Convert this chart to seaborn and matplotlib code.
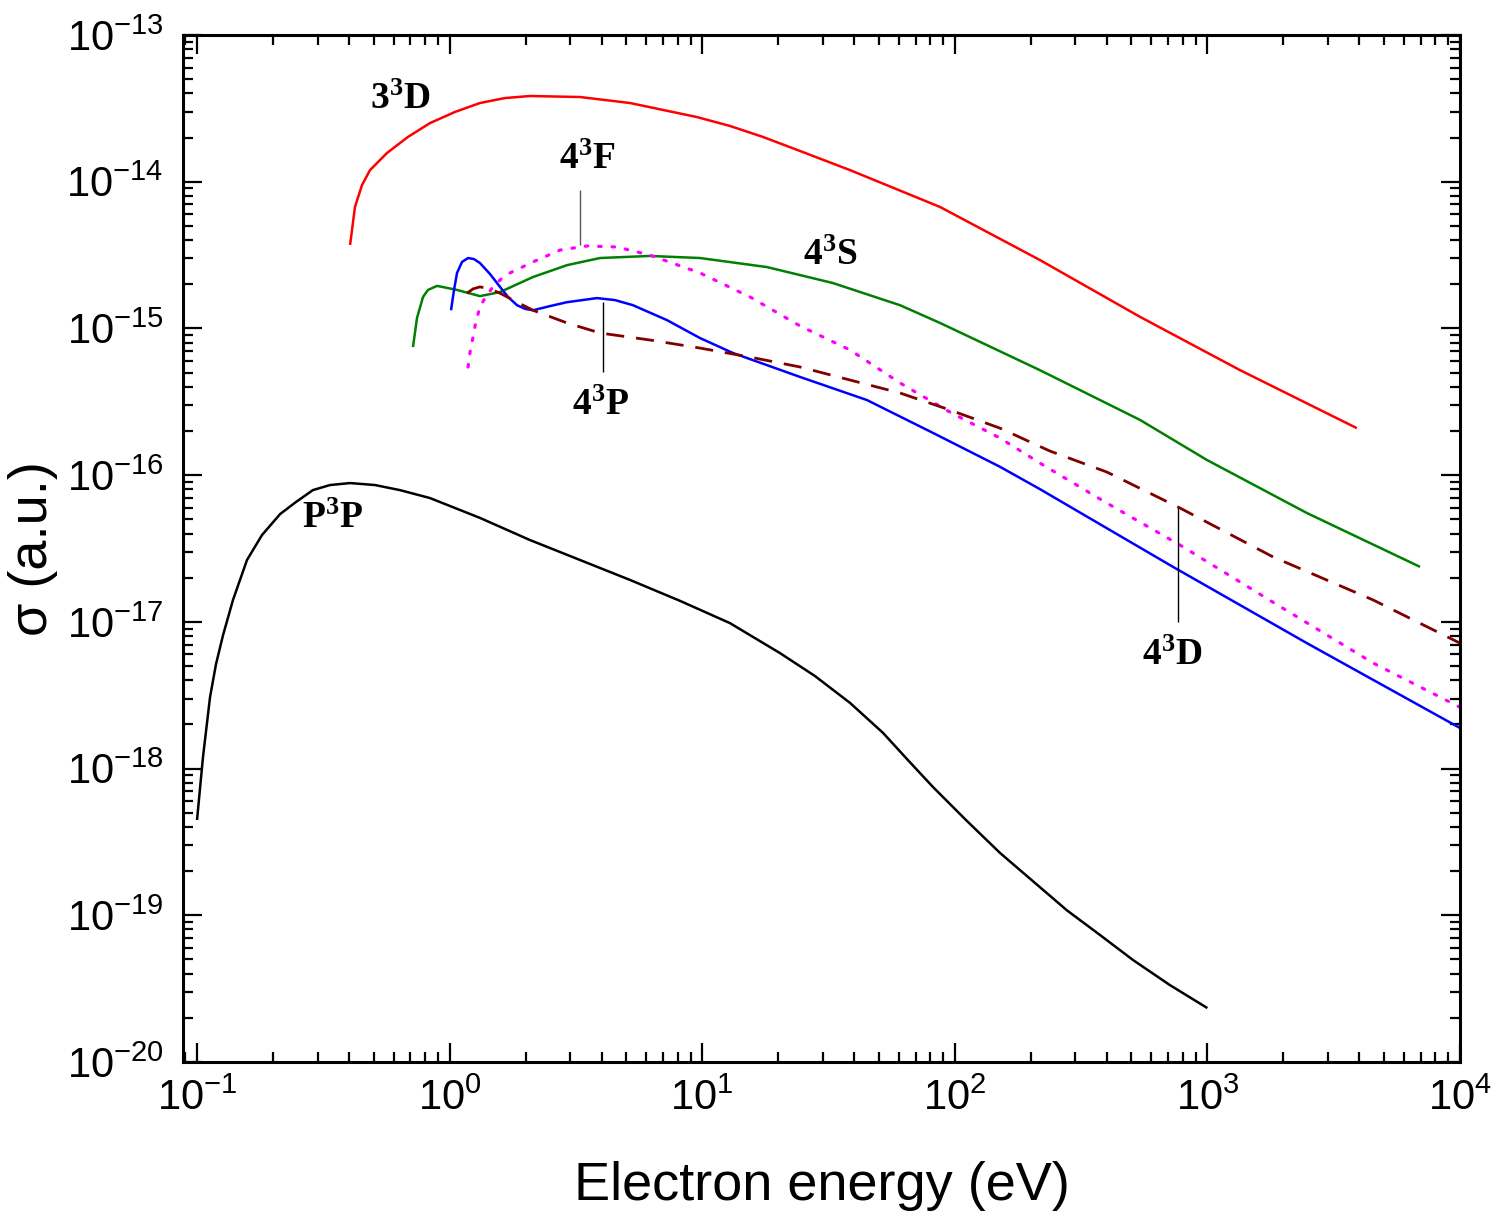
import matplotlib
matplotlib.use('Agg')
import matplotlib.pyplot as plt
import matplotlib.ticker as mticker
import numpy as np
import seaborn as sns

# energies (eV) and cross sections (a.u.)
e_p3p = [0.100, 0.1056, 0.1126, 0.1189, 0.1268, 0.1388, 0.1577, 0.1809, 0.2133, 0.2465, 0.2877,
         0.336, 0.4036, 0.5068, 0.637, 0.836, 1.319, 2.081, 3.283, 5.18, 8.17, 12.88, 20.3, 27.97,
         38.5, 52.0, 65.3, 82.0, 110.7, 151, 278, 376, 508, 711, 1000]
s_p3p = [4.46e-19, 1.20e-18, 3.07e-18, 5.15e-18, 8.13e-18, 1.41e-17, 2.64e-17, 3.91e-17,
         5.43e-17, 6.56e-17, 7.91e-17, 8.56e-17, 8.83e-17, 8.56e-17, 7.9e-17, 6.98e-17, 5.11e-17,
         3.61e-17, 2.64e-17, 1.93e-17, 1.39e-17, 9.8e-18, 6.13e-18, 4.27e-18, 2.80e-18, 1.75e-18,
         1.14e-18, 7.48e-19, 4.46e-19, 2.66e-19, 1.08e-19, 7.33e-20, 4.95e-20, 3.34e-20, 2.33e-20]

e_33d = [0.4036, 0.422, 0.450, 0.484, 0.565, 0.684, 0.836, 1.050, 1.319, 1.657, 2.081, 3.283,
         5.18, 9.53, 12.88, 17.4, 24.4, 38.5, 87.4, 217, 541, 1346, 3908]
s_33d = [3.71e-15, 6.73e-15, 9.5e-15, 1.20e-14, 1.57e-14, 2.02e-14, 2.51e-14, 2.99e-14, 3.44e-14,
         3.72e-14, 3.84e-14, 3.78e-14, 3.44e-14, 2.76e-14, 2.40e-14, 2.02e-14, 1.62e-14, 1.20e-14,
         6.73e-15, 2.93e-15, 1.20e-15, 5.20e-16, 2.09e-16]

e_43s = [0.716, 0.743, 0.785, 0.821, 0.892, 1.070, 1.319, 1.583, 2.138, 2.916, 3.94, 6.21, 9.80,
         18.05, 32.9, 60.7, 87.4, 217, 541, 995, 2477, 6950]
s_43s = [7.46e-16, 1.18e-15, 1.64e-15, 1.83e-15, 1.95e-15, 1.83e-15, 1.66e-15, 1.77e-15,
         2.24e-15, 2.70e-15, 3.02e-15, 3.12e-15, 3.02e-15, 2.62e-15, 2.04e-15, 1.44e-15,
         1.09e-15, 5.20e-16, 2.38e-16, 1.27e-16, 5.52e-17, 2.37e-17]

e_43p = [1.013, 1.041, 1.070, 1.120, 1.183, 1.249, 1.319, 1.445, 1.583, 1.703, 1.849, 1.988,
         2.138, 2.497, 2.916, 3.83, 4.52, 5.32, 7.25, 9.80, 13.24, 24.4, 44.9, 82.0, 151, 217,
         731, 2477, 10000]
s_43p = [1.33e-15, 1.83e-15, 2.39e-15, 2.84e-15, 3.02e-15, 2.97e-15, 2.79e-15, 2.35e-15,
         1.92e-15, 1.64e-15, 1.44e-15, 1.36e-15, 1.33e-15, 1.42e-15, 1.51e-15, 1.61e-15,
         1.56e-15, 1.44e-15, 1.14e-15, 8.60e-16, 6.80e-16, 4.67e-16, 3.25e-16, 1.94e-16,
         1.14e-16, 8.04e-17, 2.37e-17, 7.16e-18, 1.89e-18]

e_43f = [1.183, 1.205, 1.238, 1.272, 1.319, 1.394, 1.485, 1.583, 1.734, 2.138, 2.735, 3.50, 4.60,
         6.21, 9.80, 15.46, 24.4, 38.5, 60.7, 95.7, 151, 217, 400, 779, 1820, 4530, 10000]
s_43f = [5.46e-16, 6.90e-16, 8.74e-16, 1.12e-15, 1.40e-15, 1.66e-15, 1.92e-15, 2.14e-15,
         2.39e-15, 2.84e-15, 3.42e-15, 3.65e-15, 3.59e-15, 3.16e-15, 2.39e-15, 1.64e-15,
         1.04e-15, 7.13e-16, 4.25e-16, 2.69e-16, 1.79e-16, 1.21e-16, 6.45e-17, 3.34e-17,
         1.36e-17, 5.24e-18, 2.62e-18]

e_43d = [1.172, 1.238, 1.319, 1.445, 1.583, 1.849, 2.138, 2.916, 3.94, 6.21, 9.80, 15.46, 24.4,
         38.5, 60.7, 95.7, 151, 238, 400, 779, 1820, 4530, 10000]
s_43d = [1.74e-15, 1.86e-15, 1.92e-15, 1.86e-15, 1.74e-15, 1.51e-15, 1.33e-15, 1.09e-15,
         9.31e-16, 8.34e-16, 7.35e-16, 6.38e-16, 5.46e-16, 4.45e-16, 3.63e-16, 2.78e-16,
         2.09e-16, 1.46e-16, 1.05e-16, 5.97e-17, 2.77e-17, 1.41e-17, 7.16e-18]

labels = [r'$\mathdefault{3^{3}D}$', r'$\mathdefault{4^{3}F}$', r'$\mathdefault{4^{3}S}$',
          r'$\mathdefault{4^{3}P}$', r'$\mathdefault{4^{3}D}$', r'$\mathdefault{P^{3}P}$']
label_x = [0.637, 3.50, 32.1, 3.94, 725, 0.345]
label_y = [3.61e-14, 1.41e-14, 3.16e-15, 3.0e-16, 5.94e-18, 5.1e-17]

# leader lines: 4F, 4P, 4D
lead_x = [3.28, 4.05, 766]
lead_y0 = [3.71e-15, 5.05e-16, 9.97e-18]
lead_y1 = [8.77e-15, 1.51e-15, 5.97e-17]
lead_c = ['0.35', 'black', 'black']

sns.set_style('white')
plt.rcParams['font.family'] = ['Liberation Sans', 'DejaVu Sans']
plt.rcParams['mathtext.fontset'] = 'custom'
plt.rcParams['mathtext.rm'] = 'Liberation Sans'
plt.rcParams['text.color'] = 'black'
plt.rcParams['axes.labelcolor'] = 'black'

fig = plt.figure(figsize=(15, 12.25), dpi=100)
ax = fig.add_axes([0.122, 0.1331, 0.8513, 0.8383])

lw = 1.8
common = dict(ax=ax, estimator=None, sort=False, solid_joinstyle='round', solid_capstyle='butt')
sns.lineplot(x=e_p3p, y=s_p3p, color='black', lw=lw, **common)
sns.lineplot(x=e_33d, y=s_33d, color='#ff0000', lw=lw, **common)
sns.lineplot(x=e_43s, y=s_43s, color='#008000', lw=lw, **common)
sns.lineplot(x=e_43p, y=s_43p, color='#0000ff', lw=lw, **common)
sns.lineplot(x=e_43f, y=s_43f, color='#ff00ff', lw=2.3, linestyle=(0, (0.8, 3.4)),
             dash_capstyle='round', **common)
sns.lineplot(x=e_43d, y=s_43d, color='#800000', lw=2.0, linestyle=(0, (6.5, 4.3)), **common)

for x, y0, y1, c in zip(lead_x, lead_y0, lead_y1, lead_c):
    ax.vlines(x, y0, y1, color=c, lw=1.0)

for t, x, y in zip(labels, label_x, label_y):
    ax.text(x, y, t, ha='center', va='center', fontsize=27, color='black',
            family='Liberation Serif', weight='bold')

ax.set_xscale('log')
ax.set_yscale('log')
ax.set_xlim(0.088, 1e4)
ax.set_ylim(1e-20, 1e-13)

for axis in (ax.xaxis, ax.yaxis):
    axis.set_major_locator(mticker.LogLocator(base=10, numticks=20))
    axis.set_minor_locator(mticker.LogLocator(base=10, subs=np.arange(2, 10), numticks=100))
    axis.set_minor_formatter(mticker.NullFormatter())

ax.tick_params(which='both', direction='in', top=True, right=True, bottom=True, left=True,
               width=1.6, colors='black')
ax.tick_params(which='major', length=14, labelsize=30)
ax.tick_params(which='minor', length=7)
ax.tick_params(axis='x', which='major', pad=12)
ax.tick_params(axis='y', which='major', pad=14)
for sp in ax.spines.values():
    sp.set_linewidth(2.2)
    sp.set_color('black')

ax.set_xlabel('Electron energy (eV)', fontsize=39, labelpad=30, color='black')
ax.set_ylabel('σ (a.u.)', fontsize=39, labelpad=6, color='black')

plt.savefig('out.png', dpi=100)
